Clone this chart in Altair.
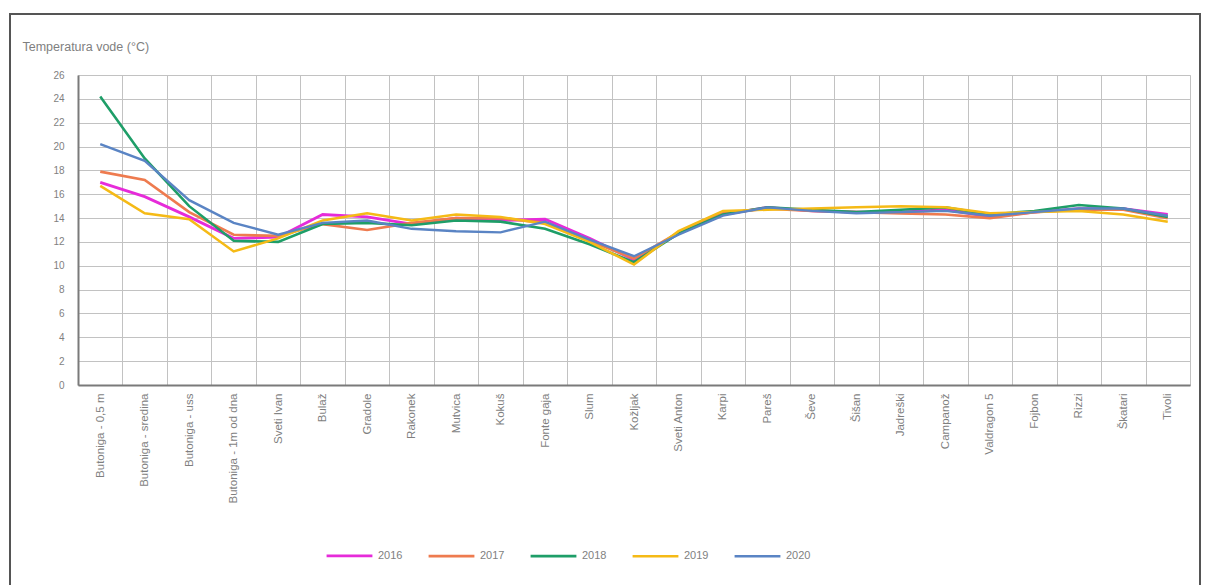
import altair as alt
import pandas as pd

categories = ["Butoniga - 0,5 m", "Butoniga - sredina", "Butoniga - uss", "Butoniga - 1m od dna",
              "Sveti Ivan", "Bulaž", "Gradole", "Rakonek", "Mutvica", "Kokuš", "Fonte gaja",
              "Slum", "Kožljak", "Sveti Anton", "Karpi", "Pareš", "Ševe", "Šišan", "Jadreški",
              "Campanož", "Valdragon 5", "Fojbon", "Rizzi", "Škatari", "Tivoli"]

years = ["2016", "2017", "2018", "2019", "2020"]
colors = ["#E62BD9", "#EE7B4F", "#1E9E68", "#F5BA16", "#5A84C4"]
widths = [2.8, 2.4, 2.8, 4.2, 2.6]

v2016 = [17.0, 15.8, 14.1, 12.3, 12.4, 14.3, 14.1, 13.5, 14.0, 13.8, 13.9, 12.3, 10.5,
         12.7, 14.3, 14.9, 14.6, 14.5, 14.5, 14.7, 14.1, 14.5, 14.8, 14.8, 14.3]
v2017 = [17.9, 17.2, 14.5, 12.6, 12.5, 13.5, 13.0, 13.6, 14.0, 14.0, 13.6, 12.1, 10.6,
         12.8, 14.4, 14.8, 14.6, 14.5, 14.4, 14.3, 14.0, 14.5, 14.7, 14.7, 14.0]
v2018 = [24.2, 19.0, 15.0, 12.1, 12.0, 13.5, 13.6, 13.4, 13.8, 13.7, 13.1, 11.8, 10.3,
         12.7, 14.3, 14.9, 14.7, 14.5, 14.7, 14.9, 14.3, 14.6, 15.1, 14.8, 14.1]
v2019 = [16.7, 14.4, 13.9, 11.2, 12.3, 13.8, 14.4, 13.8, 14.3, 14.1, 13.5, 12.0, 10.1,
         12.9, 14.6, 14.7, 14.8, 14.9, 15.0, 14.9, 14.4, 14.5, 14.6, 14.3, 13.7]
v2020 = [20.2, 18.8, 15.5, 13.6, 12.6, 13.6, 13.8, 13.1, 12.9, 12.8, 13.7, 12.2, 10.8,
         12.6, 14.2, 14.9, 14.6, 14.4, 14.5, 14.6, 14.2, 14.5, 14.8, 14.8, 14.2]

series = {"2016": v2016, "2017": v2017, "2018": v2018, "2019": v2019, "2020": v2020}
y_ticks = list(range(0, 27, 2))

rows = []
for yr in years:
    for c, v in zip(categories, series[yr]):
        rows.append({"lokacija": c, "godina": yr, "temp": v, "order": years.index(yr)})
df = pd.DataFrame(rows)

FONT = "Liberation Sans"
GRAY = "#7f7f7f"

lines = alt.Chart(df).mark_line(clip=False).encode(
    x=alt.X("lokacija:N", sort=categories, bandPosition=0.5,
            scale=alt.Scale(type="band", paddingInner=0, paddingOuter=0),
            axis=alt.Axis(title=None, labelAngle=-90, labelAlign="right", labelBaseline="middle",
                          labelPadding=8, labelColor=GRAY, labelFontSize=11.5, labelFont=FONT,
                          ticks=False, tickBand="extent", grid=True, gridColor="#c2c2c2",
                          gridWidth=1, domainColor="#7a7a7a", domainWidth=2, labelLimit=300)),
    y=alt.Y("temp:Q",
            scale=alt.Scale(domain=[0, 26], nice=False, zero=True),
            axis=alt.Axis(values=y_ticks, title="Temperatura vode (°C)", titleAngle=0,
                          titleAlign="left", titleBaseline="middle", titleX=-56, titleY=-29,
                          titleFont=FONT, titleFontSize=12.5, titleFontWeight="normal",
                          titleColor=GRAY, labelColor=GRAY, labelFontSize=10, labelFont=FONT,
                          labelPadding=14, ticks=False, grid=True, gridColor="#c2c2c2",
                          gridWidth=1, domainColor="#7a7a7a", domainWidth=2)),
    color=alt.Color("godina:N", sort=years,
                    scale=alt.Scale(domain=years, range=colors),
                    legend=alt.Legend(title=None, orient="none", direction="horizontal",
                                      legendX=247, legendY=456, symbolType="stroke",
                                      symbolSize=2100, symbolStrokeWidth=3.2,
                                      labelColor=GRAY, labelFontSize=11, labelFont=FONT,
                                      labelOffset=4, columnPadding=20)),
    strokeWidth=alt.StrokeWidth("godina:N", sort=years,
                                scale=alt.Scale(domain=years, range=widths), legend=None),
    order=alt.Order("order:Q"),
    detail="godina:N",
)

frame = alt.Chart(pd.DataFrame({"a": [0]})).mark_rect(
    fill=None, stroke="#555555", strokeWidth=2, clip=False
).encode(
    x=alt.value(-68), x2=alt.value(1122), y=alt.value(-61), y2=alt.value(512)
)

chart = alt.layer(frame, lines).properties(
    width=1112, height=310,
    padding={"left": 70, "top": 67, "right": 12, "bottom": 200},
    autosize=alt.AutoSizeParams(type="none"),
).configure_view(stroke=None).configure(background="white")

chart.save("out.html", embed_options={"renderer": "svg", "actions": False})
